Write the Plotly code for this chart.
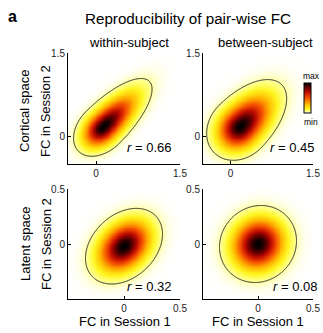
import numpy as np
import plotly.graph_objects as go

W, H = 323, 333

# Panel order: cortical within, cortical between, latent within, latent between
r_values = [0.66, 0.45, 0.32, 0.08]
r_labels = ["0.66", "0.45", "0.32", "0.08"]
# location of the density peak
mode_x = [0.12, 0.17, 0.0, 0.0]
mode_y = [0.16, 0.17, -0.02, 0.0]
# spread along the diagonal, below and above the peak
spread_diag_neg = [0.244, 0.264, 0.158, 0.1455]
spread_diag_pos = [0.47, 0.43, 0.158, 0.1455]
axis_lo = [-0.5, -0.5, -0.5, -0.5]
axis_hi = [1.5, 1.5, 0.5, 0.5]
tick_vals = [[0, 1.5], [0, 1.5], [0, 0.5], [0, 0.5]]
tick_text = [["0", "1.5"], ["0", "1.5"], ["0", "0.5"], ["0", "0.5"]]
col_titles = ["within-subject", "between-subject"]
row_titles = ["Cortical space", "Latent space"]
contour_radius = 2.5  # outline drawn at this many spreads from the peak

FONT = "Liberation Sans, Arial, sans-serif"

# pixel boxes of the four axes (left, right, top, bottom)
boxes = [(68, 180, 53, 164), (203, 313, 53, 164),
         (68, 180, 189, 299), (203, 313, 189, 299)]

hot_r = [
    [0.0, "rgb(255,255,255)"],
    [0.02, "rgb(255,255,215)"],
    [0.06, "rgb(255,255,130)"],
    [0.14, "rgb(255,245,30)"],
    [0.30, "rgb(255,180,0)"],
    [0.50, "rgb(245,80,0)"],
    [0.70, "rgb(190,10,0)"],
    [0.85, "rgb(100,0,0)"],
    [1.0, "rgb(0,0,0)"],
]


def density(X, Y, i):
    """Two-piece normal along the diagonal; the cross-diagonal spread
    is set so that the correlation of the distribution equals r."""
    dx = X - mode_x[i]
    dy = Y - mode_y[i]
    u = (dx + dy) / np.sqrt(2)
    v = (dy - dx) / np.sqrt(2)
    sn, sp = spread_diag_neg[i], spread_diag_pos[i]
    var_u = (sn ** 3 + sp ** 3) / (sn + sp) - (2 / np.pi) * (sp - sn) ** 2
    r = r_values[i]
    sv = np.sqrt(var_u * (1 - r) / (1 + r))
    su = np.where(u < 0, sn, sp)
    return np.exp(-0.5 * (u / su) ** 2 - 0.5 * (v / sv) ** 2)


fig = go.Figure()
for i in range(4):
    n = 241
    gx = np.linspace(axis_lo[i], axis_hi[i], n)
    gy = np.linspace(axis_lo[i], axis_hi[i], n)
    X, Y = np.meshgrid(gx, gy)
    dens = density(X, Y, i)
    sfx = "" if i == 0 else str(i + 1)
    hm = dict(
        x=gx, y=gy, z=dens, zmin=0, zmax=1, colorscale=hot_r,
        zsmooth="best", xaxis="x" + sfx, yaxis="y" + sfx, showscale=False,
        hoverinfo="skip",
    )
    if i == 1:
        hm.update(showscale=True, colorbar=dict(
            x=304 / W, xanchor="left", y=1 - 98.5 / H, yanchor="middle",
            len=30 / H, lenmode="fraction", thickness=7, thicknessmode="pixels",
            outlinecolor="black", outlinewidth=1, showticklabels=False,
            ticks="", xpad=0, ypad=0,
        ))
    fig.add_trace(go.Heatmap(**hm))
    level = np.exp(-contour_radius ** 2 / 2)
    fig.add_trace(go.Contour(
        x=gx, y=gy, z=dens, xaxis="x" + sfx, yaxis="y" + sfx,
        contours=dict(start=level, end=level, size=1, coloring="none"),
        line=dict(color="#222", width=1), showscale=False, hoverinfo="skip",
    ))

    x0, x1, y0, y1 = boxes[i]
    ax = dict(
        domain=[x0 / W, x1 / W], range=[axis_lo[i], axis_hi[i]],
        showgrid=False, zeroline=False, showline=True, linecolor="black",
        linewidth=1, ticks="inside", ticklen=3, tickcolor="black",
        tickvals=tick_vals[i], ticktext=tick_text[i],
        tickfont=dict(family=FONT, size=10, color="#222"),
        automargin=False,
    )
    ay = dict(ax)
    ay["domain"] = [1 - y1 / H, 1 - y0 / H]
    ax["anchor"] = "y" + sfx
    ay["anchor"] = "x" + sfx
    fig.layout["xaxis" + sfx] = ax
    fig.layout["yaxis" + sfx] = ay

annotations = []


def text(x, y, s, size, xanchor="center"):
    annotations.append(dict(
        x=x / W, y=1 - y / H, xref="paper", yref="paper", text=s,
        xanchor=xanchor, yanchor="middle", showarrow=False,
        font=dict(family=FONT, size=size, color="black")))


def vtext(x, y, s, size):
    annotations.append(dict(
        x=x / W, y=1 - y / H, xref="paper", yref="paper", text=s,
        xanchor="center", yanchor="middle", textangle=-90, showarrow=False,
        font=dict(family=FONT, size=size, color="black")))


text(12, 17, "<b>a</b>", 16)
text(187.5, 18, "Reproducibility of pair-wise FC", 15.2)
text(129, 43, col_titles[0], 13)
text(265, 43, col_titles[1], 13)
vtext(25, 111, row_titles[0], 13)
vtext(46, 111, "FC in Session 2", 13)
vtext(25, 244, row_titles[1], 13)
vtext(46, 244, "FC in Session 2", 13)
text(125, 321, "FC in Session 1", 13)
text(258, 321, "FC in Session 1", 13)
r_pos = [(173, 147.5), (316, 147.5), (173, 286.5), (319, 286.5)]
for (px, py), lab in zip(r_pos, r_labels):
    text(px, py, "<i>r</i> = " + lab, 13, xanchor="right")
text(311, 75.5, "max", 8.5)
text(311, 121.5, "min", 8.5)

fig.update_layout(
    width=W, height=H,
    margin=dict(l=0, r=0, t=0, b=0, pad=0, autoexpand=False),
    paper_bgcolor="white", plot_bgcolor="white", showlegend=False,
    annotations=annotations,
)
fig.write_html("out.html")
